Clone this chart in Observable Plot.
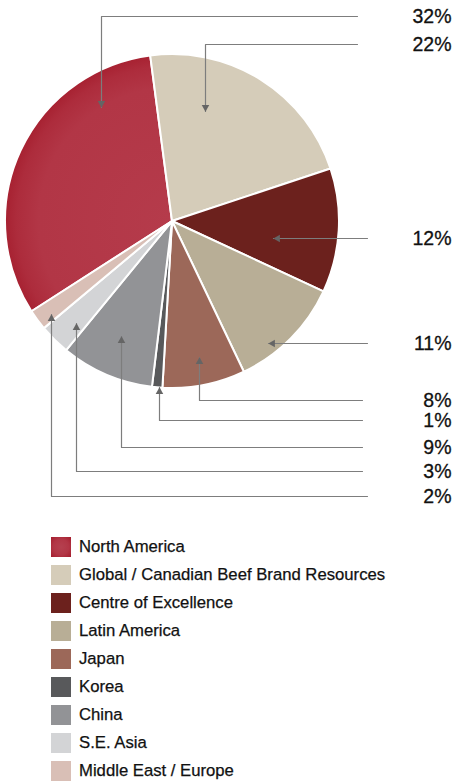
<!DOCTYPE html>
<html>
<head>
<meta charset="utf-8">
<script src="https://cdn.jsdelivr.net/npm/d3@7"></script>
<script src="https://cdn.jsdelivr.net/npm/@observablehq/plot@0.6"></script>
<style>
  html, body { margin: 0; padding: 0; background: #fff; }
  body { width: 453px; font-family: "Liberation Sans", Arial, Helvetica, sans-serif; color: #111; }
  #legend { padding-top: 13px; }
  .row { display: flex; align-items: center; height: 28px; }
  .sw { width: 20px; height: 20px; margin-left: 51px; margin-right: 8px; flex: none; }
  .lab { font-size: 16.7px; line-height: 20px; -webkit-text-stroke: 0.25px #111; }
</style>
</head>
<body>
<div id="chart"></div>
<div id="legend"></div>
<script>
// ---- data ----
const regions = ["North America", "Global / Canadian Beef Brand Resources", "Centre of Excellence", "Latin America", "Japan", "Korea", "China", "S.E. Asia", "Middle East / Europe"];
const shares = [32, 22, 12, 11, 8, 1, 9, 3, 2];
const colors = ["#b23747", "#d5ccb9", "#6c211d", "#b8ae96", "#9c6859", "#58595b", "#929396", "#d3d4d6", "#d9bfb6"];

// ---- layout (annotation placement) ----
const pieCenter = {x: 172, y: 221};
const pieRadius = 167;
const startDeg = -122.7;
const tipX = [101, 205, 273, 268, 199, 159, 121, 76, 51];
const tipY = [107, 111, 238, 343, 357, 387, 336, 323, 314];
const labelY = [16, 44, 238, 343, 400, 420, 447, 471, 496];
const lineEndX = [357, 357, 367, 367, 362, 362, 362, 362, 367];
const arrowDir = ["down", "down", "left", "left", "up", "up", "up", "up", "up"];

const W = 453, H = 520;
const rows = regions.map((r, i) => ({region: r, share: shares[i], color: colors[i]}));

const pie = d3.pie().sort(null).value(d => d.share)
  .startAngle(startDeg * Math.PI / 180)
  .endAngle(startDeg * Math.PI / 180 + 2 * Math.PI)(rows);

function pieMark(index, scales) {
  const {x, y} = scales;
  const r = x(pieRadius) - x(0);
  const g = d3.create("svg:g");
  const defs = g.append("defs");
  const grad = defs.append("radialGradient").attr("id", "naGrad")
    .attr("gradientUnits", "userSpaceOnUse")
    .attr("cx", 0).attr("cy", 0).attr("r", r);
  grad.append("stop").attr("offset", "0").attr("stop-color", "#b53b4b");
  grad.append("stop").attr("offset", "0.8").attr("stop-color", "#b23646");
  grad.append("stop").attr("offset", "0.93").attr("stop-color", "#ad2c3c");
  grad.append("stop").attr("offset", "1").attr("stop-color", "#a72131");
  const arc = d3.arc().innerRadius(0).outerRadius(r);
  g.append("g")
    .attr("transform", `translate(${x(pieCenter.x)},${y(pieCenter.y)})`)
    .selectAll("path").data(pie).join("path")
    .attr("d", arc)
    .attr("fill", (d, i) => i === 0 ? "url(#naGrad)" : d.data.color)
    .attr("stroke", "#fff").attr("stroke-width", 2).attr("stroke-linejoin", "round");
  return g.node();
}

const leaderPts = rows.flatMap((d, i) => [
  {region: d.region, x: tipX[i], y: tipY[i]},
  {region: d.region, x: tipX[i], y: labelY[i]},
  {region: d.region, x: lineEndX[i], y: labelY[i]}
]);
const off = 4.2;
const rot = {down: 180, left: 270, up: 0};
const dvec = {down: [0, 1], left: [-1, 0], up: [0, -1]};
const arrows = rows.map((d, i) => ({
  x: tipX[i] - dvec[arrowDir[i]][0] * off,
  y: tipY[i] - dvec[arrowDir[i]][1] * off,
  rotate: rot[arrowDir[i]]
}));
const labels = rows.map((d, i) => ({text: d.share + "%", y: labelY[i]}));

const plot = Plot.plot({
  width: W, height: H,
  margin: 0,
  x: {domain: [0, W], range: [0, W], axis: null},
  y: {domain: [0, H], range: [0, H], axis: null},
  style: {fontFamily: "'Liberation Sans', Arial, Helvetica, sans-serif", background: "#fff"},
  marks: [
    pieMark,
    Plot.line(leaderPts, {x: "x", y: "y", z: "region", stroke: "#7d7d7d", strokeWidth: 1.2, curve: "linear"}),
    Plot.dot(arrows, {x: "x", y: "y", rotate: "rotate", symbol: "triangle", r: 2.8, fill: "#656565", stroke: null}),
    Plot.text(labels, {x: () => 451, y: "y", text: "text", textAnchor: "end", fontSize: 19.5, fill: "#111", stroke: "#111", strokeWidth: 0.3})
  ]
});
document.getElementById("chart").appendChild(plot);

const legend = d3.select("#legend");
rows.forEach((d, i) => {
  const row = legend.append("div").attr("class", "row");
  const sw = row.append("div").attr("class", "sw");
  if (i === 0) sw.style("background", "radial-gradient(circle, #b5404f 0%, #b23646 55%, #a41c2c 100%)");
  else sw.style("background", d.color);
  row.append("div").attr("class", "lab").text(d.region);
});
</script>
</body>
</html>
